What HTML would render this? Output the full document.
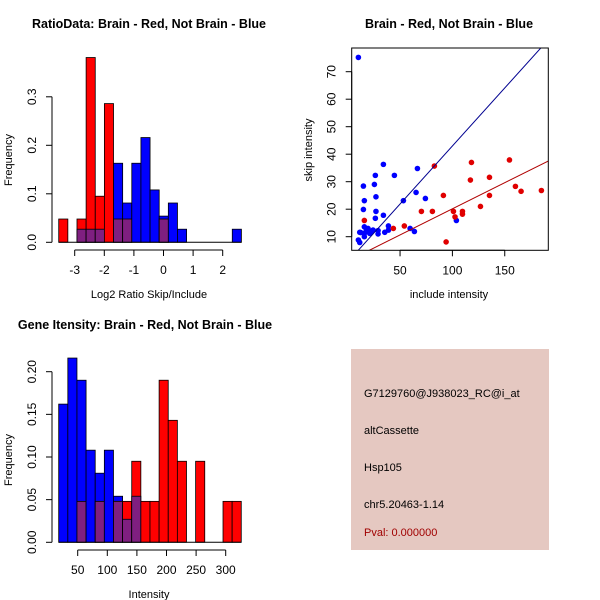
<!DOCTYPE html>
<html><head><meta charset="utf-8"><style>
body{margin:0;background:#fff}
svg{display:block;font-family:"Liberation Sans",sans-serif}
</style></head><body>
<svg id="s" width="600" height="600" xmlns="http://www.w3.org/2000/svg">
<rect width="600" height="600" fill="#fff"/>
<text x="149" y="28" font-size="12.5" font-weight="bold" text-anchor="middle">RatioData: Brain - Red, Not Brain - Blue</text>
<text x="449" y="28" font-size="12.5" font-weight="bold" text-anchor="middle">Brain - Red, Not Brain - Blue</text>
<text x="145" y="329" font-size="12.5" font-weight="bold" text-anchor="middle">Gene Itensity: Brain - Red, Not Brain - Blue</text>
<rect x="351" y="349" width="198" height="201" fill="#e5c8c1"/>
<g font-size="11">
<text x="364" y="397">G7129760@J938023_RC@i_at</text>
<text x="364" y="434">altCassette</text>
<text x="364" y="471">Hsp105</text>
<text x="364" y="508">chr5.20463-1.14</text>
<text x="364" y="536" fill="#a00000">Pval: 0.000000</text>
</g>
</svg>
<script>
// Ratio histogram data
const ratioStart = -3.54, ratioBinW = 0.3086;
const ratioRed = [0.048,0,0.048,0.381,0.095,0.286,0.048,0.048,0,0,0,0.048,0,0,0,0,0,0,0,0];
const ratioBlue = [0,0,0.027,0.027,0.027,0,0.163,0.081,0.163,0.216,0.108,0.054,0.081,0.027,0,0,0,0,0,0.027];
const ratioXTicks = [-3,-2,-1,0,1,2];
const ratioYTicks = ["0.0","0.1","0.2","0.3"];
// Intensity histogram data
const intStart = 17.9, intBinW = 15.42;
const intRed = [0,0,0.048,0,0.048,0,0.048,0.048,0.095,0.048,0.048,0.19,0.143,0.095,0,0.095,0,0,0.048,0.048];
const intBlue = [0.162,0.216,0.19,0.108,0.081,0.108,0.054,0.027,0.054,0,0,0,0,0,0,0,0,0,0,0];
const intXTicks = [50,100,150,200,250,300];
const intYTicks = ["0.00","0.05","0.10","0.15","0.20"];
// Scatter data
const blueX = [10.2,10.2,11.5,11.5,12.5,15,15.9,15,15.9,15.9,15.9,17.8,19.4,21,22.6,24.2,25.5,26.4,27,27,26.4,29,29,34.1,34.1,35.4,38.9,38.9,44.6,53.2,66.6,65.3,74.2,59.6,63.7,103.8];
const blueY = [75.2,8.8,11.6,7.9,11.5,28.4,23.1,19.9,13.6,10,11.2,12.4,13,11.2,11.8,12.4,29,32.3,24.5,19.2,16.7,12.2,11,36.3,17.8,11.6,13.9,12.4,32.3,23.1,34.8,26.1,23.9,13,11.9,15.9];
const redX = [15.9,43.6,54.1,70.4,80.9,82.8,91.4,94,101,102.5,109.6,109.6,118.2,117.2,126.8,135.4,135.4,154.5,160.2,165.6,185];
const redY = [15.9,13,13.9,19.2,19.2,35.7,25,8.1,19.2,17.2,19.2,18.2,37,30.6,21,31.6,25,37.9,28.3,26.5,26.8];
const blueFit = [0.422,0.79];
const redFit = [0.19,1.13];
const scXTicks = [50,100,150];
const scYTicks = [10,20,30,40,50,60,70];

const NS="http://www.w3.org/2000/svg", svg=document.getElementById('s');
function mk(t,a,p){const e=document.createElementNS(NS,t);for(const k in a)e.setAttribute(k,a[k]);(p||svg).appendChild(e);return e;}
const RED="#ff0000",BLUE="#0000ff",PUR="#7f1f80";

function hist(g,red,blue,start,bw,sx,sy,name){
  for(let i=0;i<red.length;i++){
    const x0=sx(start+i*bw),x1=sx(start+(i+1)*bw);
    const r=red[i],b=blue[i],m=Math.min(r,b),mx=Math.max(r,b);
    if(mx<=0)continue;
    const top=r>=b?RED:BLUE;
    let e=mk('rect',{x:x0,y:sy(mx),width:x1-x0,height:sy(0)-sy(mx),fill:top,stroke:'#000','stroke-width':0.8},g);
    
    
    if(m>0){
      let p=mk('rect',{x:x0,y:sy(m),width:x1-x0,height:sy(0)-sy(m),fill:PUR,stroke:'#000','stroke-width':0.8},g);
      
      
    }
  }
}
function axes(g,xt,xtl,xs,yt,yv,ys,axY,axX,xlab,ylab,xl,yl,name){
  mk('line',{x1:xs(xt[0]),x2:xs(xt[xt.length-1]),y1:axY,y2:axY,stroke:'#000'},g);
  xt.forEach((v,i)=>{const x=xs(v);mk('line',{x1:x,x2:x,y1:axY,y2:axY+6,stroke:'#000'},g);
    const t=mk('text',{x:x,y:axY+24,'font-size':12,'text-anchor':'middle'},g);t.textContent=xtl[i];
    
    });
  mk('line',{x1:axX,x2:axX,y1:ys(yv[0]),y2:ys(yv[yv.length-1]),stroke:'#000'},g);
  yv.forEach((v,i)=>{const y=ys(v);mk('line',{x1:axX-6,x2:axX,y1:y,y2:y,stroke:'#000'},g);
    const tx=axX-16;
    const t=mk('text',{x:tx,y:y,'font-size':12,'text-anchor':'middle',transform:`rotate(-90 ${tx} ${y})`},g);t.textContent=yt[i];
    
    });
  let t=mk('text',{x:xl[0],y:xl[1],'font-size':11,'text-anchor':'middle'},g);t.textContent=xlab;
  
  
  t=mk('text',{x:yl[0],y:yl[1],'font-size':11,'text-anchor':'middle',transform:`rotate(-90 ${yl[0]} ${yl[1]})`},g);t.textContent=ylab;
  
  
}

// ratio histogram
{const g=mk('g',{});
 const sx=v=>74.7+(v+3)*29.6, sy=v=>242.3-v*485;
 hist(g,ratioRed,ratioBlue,ratioStart,ratioBinW,sx,sy,'ratio');
 mk('line',{x1:sx(ratioStart),x2:sx(ratioStart+20*ratioBinW),y1:sy(0),y2:sy(0),stroke:'#000'},g);
 axes(g,ratioXTicks,ratioXTicks.map(String),sx,ratioYTicks,ratioYTicks.map(Number),sy,250,52,'Log2 Ratio Skip/Include','Frequency',[149,298],[12,160],'ratio');}

// intensity histogram
{const g=mk('g',{});
 const sx=v=>77.7+(v-50)*0.592, sy=v=>542.3-v*853;
 hist(g,intRed,intBlue,intStart,intBinW,sx,sy,'intensity');
 mk('line',{x1:sx(intStart),x2:sx(intStart+20*intBinW),y1:sy(0),y2:sy(0),stroke:'#000'},g);
 axes(g,intXTicks,intXTicks.map(String),sx,intYTicks,intYTicks.map(Number),sy,550,52,'Intensity','Frequency',[149,598],[12,460],'intensity');}

// scatter
{const g=mk('g',{});
 const sx=v=>347.7+v*1.047, sy=v=>236.7-(v-10)*2.75;
 const L=351.7,R=548.3,T=48,B=250.3;
 const cp=mk('clipPath',{id:'cp'},g);mk('rect',{x:L,y:T,width:R-L,height:B-T},cp);
 const pg=mk('g',{'clip-path':'url(#cp)'},g);
 blueX.forEach((x,i)=>{const c=mk('circle',{cx:sx(x),cy:sy(blueY[i]),r:2.8,fill:BLUE},pg);
   });
 redX.forEach((x,i)=>{const c=mk('circle',{cx:sx(x),cy:sy(redY[i]),r:2.8,fill:'#e00000'},pg);
   });
 const x0=0,x1=200;
 let l=mk('line',{x1:sx(x0),y1:sy(blueFit[0]*x0+blueFit[1]),x2:sx(x1),y2:sy(blueFit[0]*x1+blueFit[1]),stroke:'#000090','stroke-width':1},pg);
 
 l=mk('line',{x1:sx(x0),y1:sy(redFit[0]*x0+redFit[1]),x2:sx(x1),y2:sy(redFit[0]*x1+redFit[1]),stroke:'#b00000','stroke-width':1},pg);
 
 mk('rect',{x:L,y:T,width:R-L,height:B-T,fill:'none',stroke:'#000'},g);
 axes(g,scXTicks,scXTicks.map(String),sx,scYTicks.map(String),scYTicks,sy,B,L,'include intensity','skip intensity',[449,298],[312,150],'scatter');}
</script>
</body></html>
